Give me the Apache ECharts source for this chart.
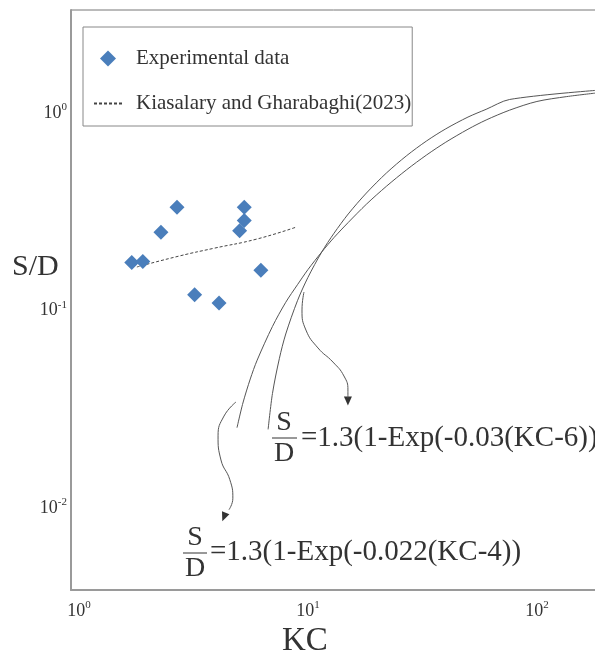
<!DOCTYPE html>
<html>
<head>
<meta charset="utf-8">
<script src="https://cdn.jsdelivr.net/npm/echarts@6/dist/echarts.min.js"></script>
<style>
  html, body { margin: 0; padding: 0; background: #fff; }
  #chart { width: 595px; height: 658px; }
</style>
</head>
<body>
<div id="chart"></div>
<script>
// 实验数据点
var expKC = [1.70, 1.90, 2.28, 2.68, 3.20, 4.09, 5.27, 5.27, 5.03, 6.23];
var expSD = [0.175, 0.177, 0.249, 0.333, 0.120, 0.109, 0.333, 0.285, 0.253, 0.160];

// Kiasalary and Gharabaghi(2023) 虚线
var kgKC = [1.79, 2.76, 3.85, 5.99, 8.95];
var kgSD = [0.166, 0.189, 0.206, 0.230, 0.265];

// 曲线 S/D = 1.3(1-Exp(-0.03(KC-6)))
var c1KC = [6.7, 7, 7.5, 8, 9, 10, 11.5, 13, 15, 18, 22, 27, 33, 40, 50, 60, 76, 180];
var c1SD = [0.025, 0.038, 0.057, 0.076, 0.112, 0.147, 0.198, 0.246, 0.308, 0.393, 0.496, 0.608, 0.722, 0.831, 0.953, 1.043, 1.17, 1.30];

// 曲线 S/D = 1.3(1-Exp(-0.022(KC-4)))
var c2KC = [4.9, 5.2, 5.6, 6, 7, 8, 9, 10, 11.5, 13, 15, 18, 22, 27, 33, 40, 50, 60, 76, 100, 135, 180];
var c2SD = [0.0255, 0.034, 0.045, 0.056, 0.083, 0.110, 0.135, 0.161, 0.198, 0.234, 0.279, 0.345, 0.425, 0.516, 0.613, 0.711, 0.827, 0.921, 1.033, 1.143, 1.21, 1.26];

// 标注箭头路径
var a1KC = [9.61, 9.42, 9.80, 11.06, 12.86, 14.36, 14.95, 14.95];
var a1SD = [0.124, 0.1006, 0.0796, 0.0646, 0.0548, 0.0466, 0.0396, 0.0361];
var a2KC = [4.85, 4.30, 4.05, 4.17, 4.56, 4.70, 4.52];
var a2SD = [0.0344, 0.0292, 0.0232, 0.0175, 0.0139, 0.0112, 0.0098];
var headKC = [14.95, 4.30];
var headSD = [0.0348, 0.0090];
var headRot = [180, 158];

// 坐标轴刻度
var xTicks = [1, 10, 100];
var yTicks = [0.01, 0.1, 1];

var serif = "'Liberation Serif', 'Times New Roman', serif";
var ink = '#333';

function zip(a, b) {
  return a.map(function (v, i) { return [v, b[i]]; });
}

function powLabel(v) {
  return '{b|10}{s|' + Math.round(Math.log10(v)) + '}';
}

var labelRich = {
  b: { fontFamily: serif, fontSize: 18, color: ink },
  s: { fontFamily: serif, fontSize: 11, color: ink, padding: [0, 0, 11, 0] }
};

var textCenter = { align: 'center', verticalAlign: 'middle', textAlign: 'center', textVerticalAlign: 'middle' };
var textLeft = { align: 'left', verticalAlign: 'middle', textAlign: 'left', textVerticalAlign: 'middle' };

function txt(x, y, s, size, pos) {
  return { type: 'text', x: x, y: y, style: Object.assign({ text: s, font: size + 'px ' + serif, fill: ink }, pos) };
}

// 图例菱形（保持 30x16 外框，菱形居中）
var diamondIcon = 'path://M0,0 M30,16 M14,0 L22,8 L14,16 L6,8 Z';

var myChart = echarts.init(document.getElementById('chart'));

var options = {
  animation: false,
  backgroundColor: '#fff',
  grid: {
    left: 71, right: -2, top: 10, bottom: 68,
    show: true, borderColor: '#777', borderWidth: 1,
    outerBoundsMode: 'none', containLabel: false
  },
  legend: {
    left: 83, top: 27,
    orient: 'vertical',
    data: [
      { name: 'Experimental data', icon: diamondIcon },
      { name: 'Kiasalary and Gharabaghi(2023)', itemStyle: { opacity: 0 } }
    ],
    itemWidth: 30, itemHeight: 16, itemGap: 24,
    padding: [21, 1, 12, 10],
    borderColor: '#888', borderWidth: 1, borderRadius: 0,
    backgroundColor: '#fff',
    textStyle: { fontFamily: serif, fontSize: 21, color: ink, padding: [0, 0, 0, 7] }
  },
  xAxis: {
    type: 'log', logBase: 10, min: 0.923, max: 183,
    axisLine: { show: true, lineStyle: { color: '#9a9a9a', width: 2 } },
    axisTick: { show: false },
    splitLine: { show: false },
    axisLabel: {
      margin: 10, showMinLabel: false, showMaxLabel: false,
      formatter: function (v) {
        return xTicks.indexOf(Math.round(v * 1000) / 1000) >= 0 ? powLabel(v) : '';
      },
      rich: labelRich
    }
  },
  yAxis: {
    type: 'log', logBase: 10, min: 0.003844, max: 3.32,
    axisLine: { show: true, lineStyle: { color: '#9a9a9a', width: 2 } },
    axisTick: { show: false },
    splitLine: { show: false },
    axisLabel: {
      margin: 4, showMinLabel: false, showMaxLabel: false,
      formatter: function (v) {
        var k = Math.round(Math.log10(v));
        return yTicks.indexOf(Math.pow(10, k)) >= 0 && Math.abs(Math.log10(v) - k) < 1e-6 ? powLabel(v) : '';
      },
      rich: labelRich
    }
  },
  series: [
    {
      name: 'Kiasalary and Gharabaghi(2023)', type: 'line',
      data: zip(kgKC, kgSD), smooth: true, symbol: 'none',
      lineStyle: { color: '#444', width: 1, type: [3, 2] },
      itemStyle: { color: '#444' }, z: 3
    },
    {
      name: 'curve1', type: 'line', data: zip(c1KC, c1SD), smooth: 0.3, symbol: 'none',
      lineStyle: { color: '#555', width: 1 }
    },
    {
      name: 'curve2', type: 'line', data: zip(c2KC, c2SD), smooth: 0.3, symbol: 'none',
      lineStyle: { color: '#555', width: 1 }
    },
    {
      name: 'arrow1', type: 'line', data: zip(a1KC, a1SD), smooth: true, symbol: 'none',
      lineStyle: { color: '#555', width: 1 }
    },
    {
      name: 'arrow2', type: 'line', data: zip(a2KC, a2SD), smooth: true, symbol: 'none',
      lineStyle: { color: '#555', width: 1 }
    },
    {
      name: 'heads', type: 'scatter', symbol: 'triangle', symbolSize: [8, 9],
      data: headKC.map(function (k, i) {
        return { value: [k, headSD[i]], symbolRotate: headRot[i] };
      }),
      itemStyle: { color: '#333', opacity: 1 }
    },
    {
      name: 'Experimental data', type: 'scatter', symbol: 'diamond', symbolSize: 15,
      data: zip(expKC, expSD),
      itemStyle: { color: '#4a7ebb', opacity: 1 }, z: 4
    }
  ],
  graphic: [
    { type: 'text', left: 12, top: 252, style: { text: 'S/D', font: '30px ' + serif, fill: ink } },
    { type: 'text', left: 282, top: 625, style: { text: 'KC', font: '33px ' + serif, fill: ink } },
    // 公式 1
    txt(284, 423, 'S', 28, textCenter),
    { type: 'line', shape: { x1: 272, y1: 438, x2: 297, y2: 438 }, style: { stroke: ink, lineWidth: 1 } },
    txt(284, 454, 'D', 28, textCenter),
    txt(301, 438, '=1.3(1-Exp(-0.03(KC-6))', 29, textLeft),
    // 公式 2
    txt(195, 538, 'S', 28, textCenter),
    { type: 'line', shape: { x1: 183, y1: 553, x2: 207, y2: 553 }, style: { stroke: ink, lineWidth: 1 } },
    txt(195, 569, 'D', 28, textCenter),
    txt(210, 552, '=1.3(1-Exp(-0.022(KC-4))', 29, textLeft)
  ]
};

myChart.setOption(options);
</script>
</body>
</html>
